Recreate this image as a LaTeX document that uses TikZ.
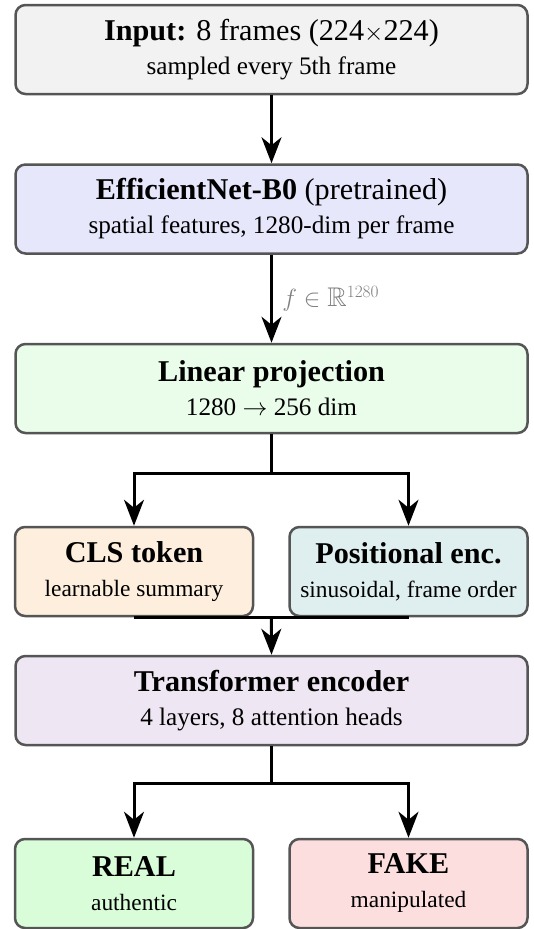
\documentclass[tikz,border=0pt]{standalone}
\usepackage{fontspec}
\setmainfont{Liberation Serif}
\usepackage{amssymb}
\usetikzlibrary{arrows.meta,calc}
\definecolor{cinput}{HTML}{F2F2F2}
\definecolor{ceff}{HTML}{E7E7FC}
\definecolor{clin}{HTML}{EAFDEA}
\definecolor{ccls}{HTML}{FDEEDE}
\definecolor{cpos}{HTML}{DFEEEE}
\definecolor{ctrans}{HTML}{EFE6F3}
\definecolor{creal}{HTML}{D9FCD9}
\definecolor{cfake}{HTML}{FCDEDE}
\definecolor{cborder}{HTML}{555555}
\newcommand{\subf}{\fontsize{25.2}{34}\selectfont}
\newcommand{\subh}{\fontsize{23.4}{34}\selectfont}
\tikzset{
  box/.style={draw=cborder, line width=2.5pt, rounded corners=10pt, align=center,
    minimum height=89pt, inner sep=0pt, font=\fontsize{30.2}{34}\selectfont},
  wide/.style={box, minimum width=512pt},
  half/.style={box, minimum width=238pt},
  conn/.style={line width=3pt, black},
  arr/.style={conn, -{Stealth[length=26pt,width=20pt,inset=8pt]}}
}
\begin{document}
\begin{tikzpicture}[x=1pt,y=-1pt]
\useasboundingbox (0,0) rectangle (534,929);
\node[wide, fill=cinput] (inp) at (271.5,49.5) {\textbf{Input:} 8 frames (224$\times$224)\\{\subf sampled every 5th frame}};
\node[wide, fill=ceff] (eff) at (271.5,209) {\textbf{EfficientNet-B0} (pretrained)\\{\subf spatial features, 1280-dim per frame}};
\node[wide, fill=clin] (lin) at (271.5,388.5) {\textbf{Linear projection}\\{\subf 1280 $\rightarrow$ 256 dim}};
\node[half, fill=ccls] (cls) at (134,571.5) {\textbf{CLS token}\\{\subh learnable summary}};
\node[half, fill=cpos] (pos) at (408.5,571.5) {\textbf{Positional enc.}\\{\subh sinusoidal, frame order}};
\node[wide, fill=ctrans] (trans) at (271.5,700.5) {\textbf{Transformer encoder}\\{\subf 4 layers, 8 attention heads}};
\node[half, fill=creal] (real) at (134,883.5) {\textbf{REAL}\\{\subh authentic}};
\node[half, fill=cfake] (fake) at (408.5,883.5) {\textbf{FAKE}\\{\subh manipulated}};

\draw[arr] (inp) -- (eff);
\draw[arr] (eff) -- node[right, xshift=6pt, text=gray, font=\fontsize{27}{30}\selectfont] {$f\in\mathbb{R}^{1280}$} (lin);
\coordinate (b1) at ($(lin.south)+(0,39)$);
\draw[conn] (lin.south) -- (b1);
\draw[arr] (b1) -| (cls.north);
\draw[arr] (b1) -| (pos.north);
\draw[conn] (cls.south) -- (pos.south);
\coordinate (m1) at ($(cls.south)!0.5!(pos.south)$);
\draw[arr] (m1) -- (trans.north);
\coordinate (b2) at ($(trans.south)+(0,37)$);
\draw[conn] (trans.south) -- (b2);
\draw[arr] (b2) -| (real.north);
\draw[arr] (b2) -| (fake.north);
\end{tikzpicture}
\end{document}
